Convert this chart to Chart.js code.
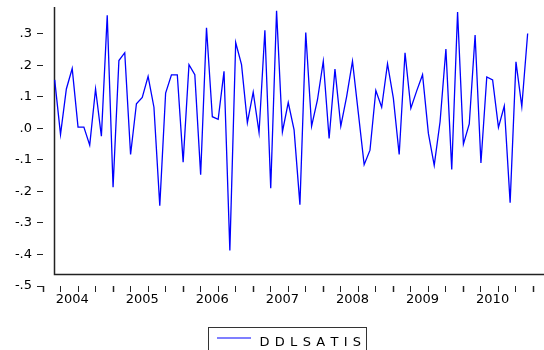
<!DOCTYPE html>
<html><head><meta charset="utf-8">
<script src="https://cdn.jsdelivr.net/npm/chart.js@4/dist/chart.umd.min.js"></script>
<style>html,body{margin:0;padding:0;background:#fff;} #wrap{width:544px;height:350px;position:relative;}</style>
</head><body><div id="wrap"><canvas id="c" width="544" height="350"></canvas></div>
<script>
// ---- data (monthly, 2004M03 .. 2010M12) ----
const seriesName = 'DDLSATIS';
const firstMonthIndex = 2; // months since 2004M01 -> 2004M03
const ddlsatis = [
  0.154, -0.019, 0.125, 0.190, 0.004, 0.004, -0.053, 0.125, -0.025, 0.359,
  -0.187, 0.215, 0.240, -0.083, 0.078, 0.098, 0.165, 0.067, -0.245, 0.112, 0.170, 0.170,
  -0.107, 0.202, 0.170, -0.147, 0.319, 0.037, 0.029, 0.181, -0.387, 0.272, 0.202, 0.018,
  0.115, -0.013, 0.311, -0.190, 0.373, -0.011, 0.082, -0.005, -0.242, 0.304, 0.007, 0.090,
  0.213, -0.032, 0.188, 0.007, 0.101, 0.213, 0.049, -0.115, -0.069, 0.120, 0.067, 0.205,
  0.096, -0.083, 0.240, 0.064, 0.119, 0.170, -0.016, -0.117, 0.021, 0.252, -0.130, 0.369,
  -0.050, 0.014, 0.296, -0.110, 0.163, 0.154, 0.003, 0.071, -0.236, 0.211, 0.069, 0.301
];
const yearLabels = ['2004','2005','2006','2007','2008','2009','2010'];
const yTickValues = [-0.5,-0.4,-0.3,-0.2,-0.1,0.0,0.1,0.2,0.3];

const points = ddlsatis.map((v,k)=>({x:firstMonthIndex+k, y:v}));

function fmt(v){
  const r = Math.round(v*10);
  const s = (Math.abs(r)/10).toFixed(1).replace(/^0/,'');
  return (r<0?'-':'')+s;
}

const FONT = {family:'DejaVu Sans', size:13};
const frameBottom = -0.462;

const framePlugin = {
  id:'frame',
  beforeDatasetsDraw(chart){
    const {ctx, chartArea, scales:{x,y}} = chart;
    const ax = Math.round(x.getPixelForValue(firstMonthIndex))-0.5;
    const by = Math.round(y.getPixelForValue(frameBottom))+0.5;
    ctx.save();
    ctx.strokeStyle='#222'; ctx.lineWidth=1.5;
    ctx.beginPath();
    ctx.moveTo(ax, chartArea.top);
    ctx.lineTo(ax, by);
    ctx.lineTo(chartArea.right, by);
    ctx.stroke();
    ctx.restore();
  },
  afterDraw(chart){
    const {ctx} = chart;
    const ds = chart.data.datasets[0];
    ctx.save();
    ctx.strokeStyle='#333'; ctx.lineWidth=1;
    ctx.strokeRect(208.5, 327.5, 158, 30);
    ctx.strokeStyle=ds.borderColor; ctx.lineWidth=1.2;
    ctx.beginPath(); ctx.moveTo(217,338); ctx.lineTo(251,338); ctx.stroke();
    ctx.fillStyle='#000';
    ctx.font='13px "DejaVu Sans"';
    ctx.textBaseline='alphabetic';
    let cx = 259.5;
    for(const ch of ds.label){
      ctx.fillText(ch, cx, 345.5);
      cx += ctx.measureText(ch).width + 5.3;
    }
    ctx.restore();
  }
};

new Chart(document.getElementById('c'), {
  type:'line',
  data:{ datasets:[{
    label: seriesName,
    data: points,
    borderColor:'#0000ff',
    borderWidth:1.3,
    pointRadius:0,
    tension:0,
    fill:false
  }]},
  options:{
    responsive:false,
    animation:false,
    layout:{padding:{top:7,left:0,right:0,bottom:0}},
    plugins:{legend:{display:false}, tooltip:{enabled:false}},
    scales:{
      x:{
        type:'linear', min:0, max:85.8,
        afterBuildTicks: s => {
          const t=[];
          for(let m=0;m<=85;m+=3) t.push({value:m});
          yearLabels.forEach((_,k)=>t.push({value:12*k+5}));
          t.sort((a,b)=>a.value-b.value);
          s.ticks=t;
        },
        afterFit: s => { s.height = 64; s.paddingLeft = 0; s.paddingRight = 0; },
        grid:{
          drawOnChartArea:false, drawTicks:true, tickLength:6,
          tickColor: c => (c.tick && c.tick.value%3===0) ? '#222' : 'rgba(0,0,0,0)',
          tickWidth: c => (c.tick && c.tick.value%12===0) ? 1.5 : 1
        },
        border:{display:false},
        ticks:{
          autoSkip:false, maxRotation:0, minRotation:0, padding:0, color:'#000', font:FONT,
          callback: v => ((v-5)%12===0) ? yearLabels[(v-5)/12] : ''
        }
      },
      y:{
        min:-0.5, max:0.385,
        afterBuildTicks: s => { s.ticks = yTickValues.map(v=>({value:v})); },
        afterFit: s => { s.width = 43; s.paddingTop = 0; s.paddingBottom = 0; },
        grid:{drawOnChartArea:false, tickLength:6, tickColor:'#222', tickWidth:1},
        border:{display:false},
        ticks:{padding:5, color:'#000', font:FONT, callback: v => fmt(v)}
      }
    }
  },
  plugins:[framePlugin]
});
</script>
</body></html>
